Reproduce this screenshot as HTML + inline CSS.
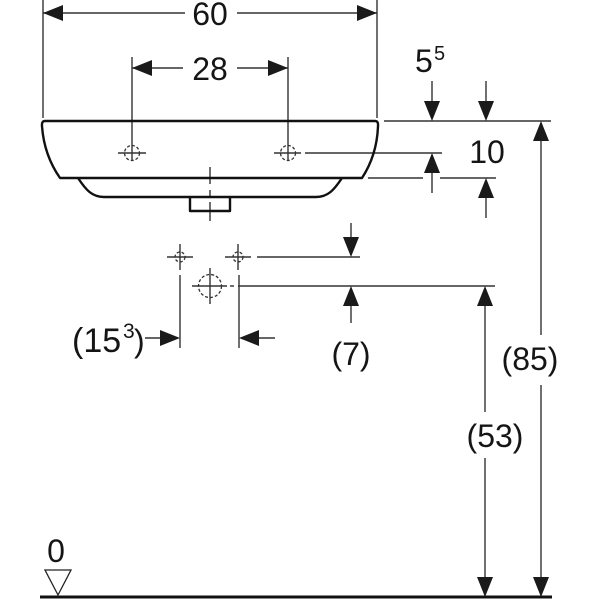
<!DOCTYPE html>
<html>
<head>
<meta charset="utf-8">
<style>
  html,body{margin:0;padding:0;background:#fff;}
  svg{display:block;}
  text{font-family:"Liberation Sans",Arial,sans-serif;fill:#151515;}
</style>
</head>
<body>
<svg width="600" height="600" viewBox="0 0 600 600" xmlns="http://www.w3.org/2000/svg">
  <g stroke="#333" stroke-width="1.4" fill="none">
    <!-- 60 dimension -->
    <line x1="43" y1="0" x2="43" y2="118"/>
    <line x1="377" y1="0" x2="377" y2="118"/>
    <line x1="43" y1="13" x2="185" y2="13"/>
    <line x1="237" y1="13" x2="377" y2="13"/>
    <!-- 28 dimension -->
    <line x1="132" y1="57" x2="132" y2="161"/>
    <line x1="288" y1="57" x2="288" y2="161"/>
    <line x1="132" y1="68" x2="183" y2="68"/>
    <line x1="237" y1="68" x2="288" y2="68"/>
    <!-- hole crosshairs -->
    <line x1="118" y1="153" x2="146" y2="153"/>
    <line x1="274" y1="153" x2="301" y2="153"/>
    <line x1="305" y1="153" x2="442" y2="153"/>
    <!-- right reference lines -->
    <line x1="384" y1="121" x2="551" y2="121"/>
    <line x1="368" y1="178" x2="423" y2="178"/>
    <line x1="440" y1="178" x2="496" y2="178"/>
    <!-- 5.5 arrows shafts -->
    <line x1="432" y1="81" x2="432" y2="110"/>
    <line x1="486" y1="81" x2="486" y2="110"/>
    <!-- 10 arrows shafts -->
    <line x1="432" y1="165" x2="432" y2="193"/>
    <line x1="486" y1="190" x2="486" y2="218"/>
    <!-- 85 vertical -->
    <line x1="541" y1="130" x2="541" y2="335"/>
    <line x1="541" y1="385" x2="541" y2="588"/>
    <!-- 53 vertical -->
    <line x1="485" y1="296" x2="485" y2="412"/>
    <line x1="485" y1="458" x2="485" y2="588"/>
    <!-- lower crosshairs -->
    <line x1="167" y1="257" x2="193" y2="257"/>
    <line x1="180" y1="244" x2="180" y2="270"/>
    <line x1="225" y1="257" x2="251" y2="257"/>
    <line x1="238" y1="244" x2="238" y2="270"/>
    <line x1="257" y1="257" x2="360" y2="257"/>
    <line x1="192" y1="286" x2="227" y2="286"/>
    <line x1="230" y1="286" x2="234" y2="286"/>
    <line x1="238" y1="286" x2="495" y2="286"/>
    <line x1="210" y1="268" x2="210" y2="304"/>
    <!-- extension lines for 15.3 -->
    <line x1="180" y1="275" x2="180" y2="348"/>
    <line x1="239" y1="275" x2="239" y2="348"/>
    <line x1="145" y1="338" x2="165" y2="338"/>
    <line x1="255" y1="338" x2="275" y2="338"/>
    <!-- 7 arrows shafts -->
    <line x1="351" y1="223" x2="351" y2="245"/>
    <line x1="351" y1="298" x2="351" y2="323"/>
    <!-- center line -->
    <line x1="210" y1="167" x2="210" y2="184"/>
    <line x1="210" y1="190" x2="210" y2="197"/>
    <line x1="210" y1="202" x2="210" y2="221"/>
  </g>
  <!-- dashed circles -->
  <g stroke="#333" stroke-width="1.3" fill="none" stroke-dasharray="3 2">
    <circle cx="132" cy="153" r="7.5"/>
    <circle cx="288" cy="153" r="7.5"/>
    <circle cx="180" cy="257" r="5"/>
    <circle cx="238" cy="257" r="5"/>
    <circle cx="210" cy="286" r="11.5"/>
  </g>
  <!-- basin outline -->
  <g stroke="#111" stroke-width="2.4" fill="none" stroke-linejoin="round">
    <path d="M45,121 L375,121 Q378.5,121 378,126 Q377,155 362,178 L60,178 Q44,155 42,126 Q41.5,121 45,121 Z"/>
    <path d="M78,178 C86,190 92,197 104,197 L316,197 C328,197 334,190 342,178"/>
    <path d="M190,197 L190,211 L230,211 L230,197"/>
  </g>
  <!-- arrowheads -->
  <g fill="#1a1a1a" stroke="none">
    <polygon points="43,13 63,5 63,21"/>
    <polygon points="377,13 357,5 357,21"/>
    <polygon points="132,68 152,60 152,76"/>
    <polygon points="288,68 268,60 268,76"/>
    <polygon points="432,121 424,101 440,101"/>
    <polygon points="486,121 478,101 494,101"/>
    <polygon points="432,153 424,173 440,173"/>
    <polygon points="486,178 478,198 494,198"/>
    <polygon points="541,121 533,141 549,141"/>
    <polygon points="541,597 533,577 549,577"/>
    <polygon points="485,286 477,306 493,306"/>
    <polygon points="485,597 477,577 493,577"/>
    <polygon points="351,257 343,237 359,237"/>
    <polygon points="351,286 343,306 359,306"/>
    <polygon points="180,338 160,330 160,346"/>
    <polygon points="239,338 259,330 259,346"/>
  </g>
  <!-- ground line -->
  <line x1="40" y1="597" x2="552" y2="597" stroke="#111" stroke-width="3"/>
  <polygon points="45,570 71,570 58,595" fill="#fff" stroke="#222" stroke-width="1.3"/>
  <!-- labels -->
  <g font-size="32">
    <text x="210" y="25" text-anchor="middle">60</text>
    <text x="210" y="80" text-anchor="middle">28</text>
    <text x="415" y="72">5</text>
    <text x="434" y="60" font-size="20">5</text>
    <text x="487" y="163" text-anchor="middle">10</text>
    <text x="530" y="370" text-anchor="middle">(85)</text>
    <text x="495" y="447" text-anchor="middle">(53)</text>
    <text x="351" y="365" text-anchor="middle">(7)</text>
    <text x="72" y="352" font-size="34">(15</text>
    <text x="123" y="338" font-size="21">3</text>
    <text x="134" y="352">)</text>
    <text x="56" y="562" text-anchor="middle">0</text>
  </g>
</svg>
</body>
</html>
